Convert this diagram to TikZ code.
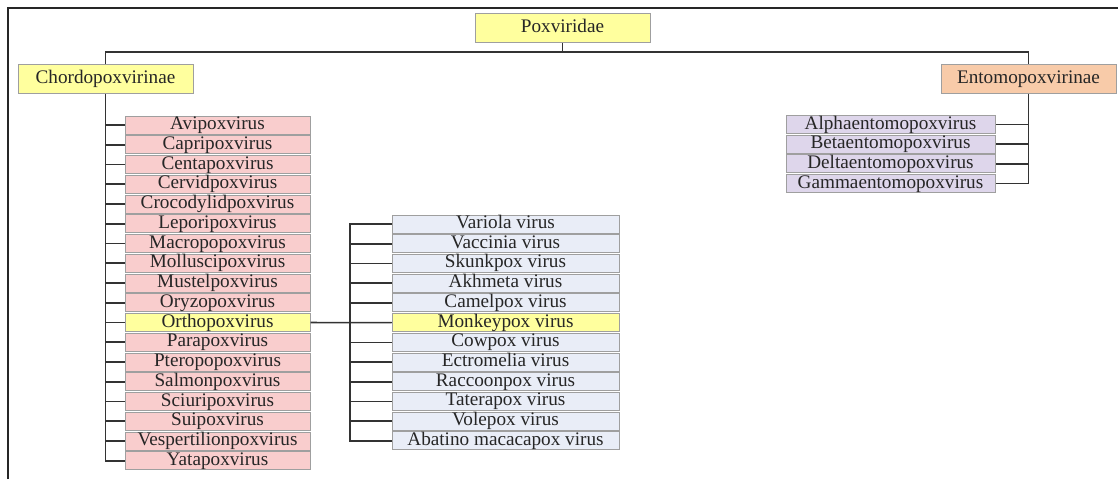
\documentclass[tikz,border=0pt]{standalone}
\usepackage{fontspec}
\setmainfont{Liberation Serif}
\usepackage{tikz}

\definecolor{keyyellow}{HTML}{FFFF9E}
\definecolor{genusred}{HTML}{F9CDCD}
\definecolor{speciesblue}{HTML}{E9EDF7}
\definecolor{entlilac}{HTML}{DED6EB}
\definecolor{entsalmon}{HTML}{F8CBA9}

\tikzset{
	taxon/.style={draw=gray!75, line width=0.5pt, inner sep=0pt, minimum height=9pt,
		text height=6.4pt, text depth=1.9pt, text=black!85,
		font=\fontsize{9.6}{10}\selectfont},
	rank/.style={taxon, minimum width=87.5pt, minimum height=14.5pt},
	genus/.style={taxon, fill=genusred, minimum width=92.5pt},
	species/.style={taxon, fill=speciesblue, minimum width=113.5pt},
	entgenus/.style={taxon, fill=entlilac, minimum width=104.5pt},
	branch/.style={draw=black!80, line width=0.8pt},
}

\begin{document}
\begin{tikzpicture}[x=0.5pt, y=-0.5pt]
	\useasboundingbox (0,0) rectangle (1118,479);
	\draw[line width=1pt, black!85] (8,479) -- (8,8) -- (1118,8);

	\node[rank, fill=keyyellow] (pox) at (562.5,28) {Poxviridae};
	\node[rank, fill=keyyellow] (chordo) at (105.5,78.5) {Chordopoxvirinae};
	\node[rank, fill=entsalmon] (ento) at (1028.5,78.5) {Entomopoxvirinae};
	\coordinate (bar) at (562.5,52);
	\coordinate (vtrunk) at (350,0);

	\foreach \name [count=\i from 0] in {Avipoxvirus, Capripoxvirus, Centapoxvirus,
		Cervidpoxvirus, Crocodylidpoxvirus, Leporipoxvirus, Macropopoxvirus,
		Molluscipoxvirus, Mustelpoxvirus, Oryzopoxvirus, Orthopoxvirus, Parapoxvirus,
		Pteropopoxvirus, Salmonpoxvirus, Sciuripoxvirus, Suipoxvirus,
		Vespertilionpoxvirus, Yatapoxvirus}{
		\ifnum\i=10 \def\tint{keyyellow}\else\def\tint{genusred}\fi
		\node[genus, fill=\tint] (g\i) at (217.5,{125+19.75*\i}) {\name};
	}

	\foreach \name [count=\j from 0] in {Variola virus, Vaccinia virus, Skunkpox virus,
		Akhmeta virus, Camelpox virus, Monkeypox virus, Cowpox virus, Ectromelia virus,
		Raccoonpox virus, Taterapox virus, Volepox virus, Abatino macacapox virus}{
		\ifnum\j=5 \def\tint{keyyellow}\else\def\tint{speciesblue}\fi
		\node[species, fill=\tint] (s\j) at (505.5,{224+19.72*\j}) {\name};
	}

	\foreach \name [count=\k from 0] in {Alphaentomopoxvirus, Betaentomopoxvirus,
		Deltaentomopoxvirus, Gammaentomopoxvirus}
		\node[entgenus] (e\k) at (890.5,{124.5+19.7*\k}) {\name};

	% tree lines
	\draw[branch] (pox) -- (bar);
	\draw[branch] (chordo) |- (bar) -| (ento);

	\draw[branch] (chordo) |- (g17.west);
	\foreach \i in {0,...,16}
		\draw[branch] (g\i.west -| chordo) -- (g\i.west);

	\draw[branch] (g10) -- (s5);
	\draw[branch] (s0.west) -- (s0.west -| vtrunk) -- (s11.west -| vtrunk) -- (s11.west);
	\foreach \j in {1,...,10}
		\draw[branch] (s\j.west -| vtrunk) -- (s\j.west);

	\draw[branch] (ento) |- (e3.east);
	\foreach \k in {0,1,2}
		\draw[branch] (e\k.east -| ento) -- (e\k.east);
\end{tikzpicture}
\end{document}
